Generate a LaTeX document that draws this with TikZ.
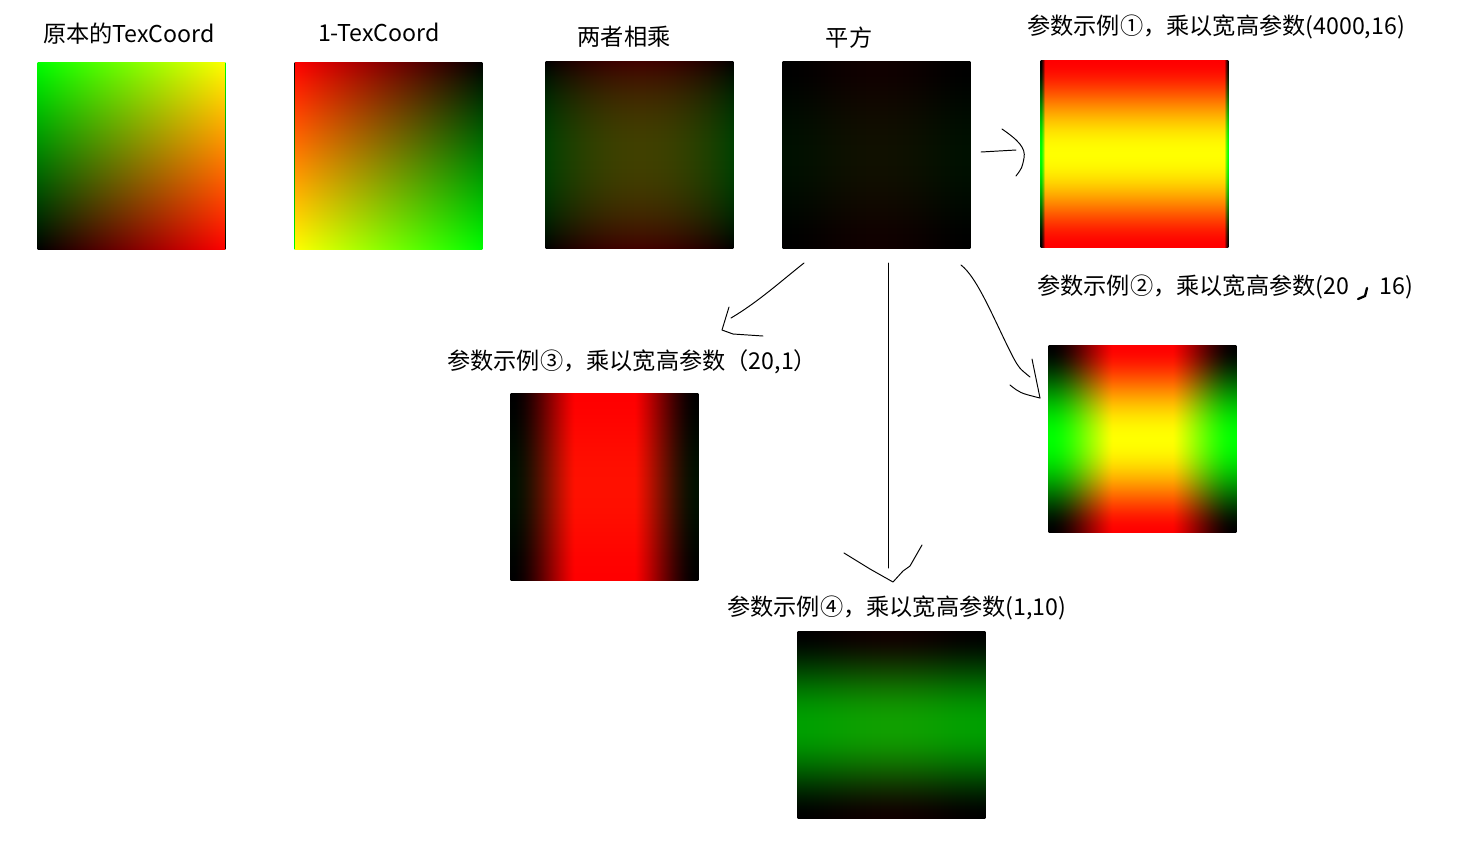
\documentclass[tikz,border=0pt]{standalone}
\usepackage{fontspec}
\setmainfont{Noto Sans CJK SC}

% Construye un sombreado de un canal a partir de una expresion en \ut.
\newcommand\hacersombra[4]{%
  \pgfmathsetmacro\valor{min(1,max(0,0+(#4)))}%
  \xdef\paradas{rgb(0bp)=(#3)}%
  \foreach \i in {0,...,100}{%
    \pgfmathsetmacro\ut{\i/100}%
    \pgfmathsetmacro\valor{min(1,max(0,#4))}%
    \pgfmathsetmacro\pos{25+\i/2}%
    \xdef\paradas{\paradas; rgb(\pos bp)=(#3)}%
  }%
  \xdef\paradas{\paradas; rgb(100bp)=(#3)}%
  \edef\hacer{\expandafter\noexpand\csname pgfdeclare#2shading\endcsname{#1}{100bp}{\paradas}}%
  \hacer
}

% Define los sombreados: rojo en horizontal, verde en vertical.
\def\ut{0}
\hacersombra{origr}{horizontal}{\valor,0,0}{\ut}
\hacersombra{origg}{vertical}{0,\valor,0}{\ut}
\def\ut{1}
\hacersombra{invr}{horizontal}{\valor,0,0}{1-\ut}
\hacersombra{invg}{vertical}{0,\valor,0}{1-\ut}
\hacersombra{prodr}{horizontal}{\valor,0,0}{\ut*(1-\ut)}
\hacersombra{prodg}{vertical}{0,\valor,0}{\ut*(1-\ut)}

% Cuadrado multiplicado por ancho y alto.
\newcommand\hacerpar[3]{%
  \hacersombra{#1r}{horizontal}{\valor,0,0}{#2*(\ut*(1-\ut))^2}%
  \hacersombra{#1g}{vertical}{0,\valor,0}{#3*(\ut*(1-\ut))^2}%
}
\hacerpar{cuad}{1}{1}
\hacerpar{ejuno}{4000}{16}
\hacerpar{ejdos}{20}{16}
\hacerpar{ejtres}{20}{1}
\hacerpar{ejcuatro}{1}{10}

\tikzset{
  cuadro/.style={shade, shading=#1, minimum size=3.74cm, inner sep=0pt, draw=none},
  capa/.style={shading=#1, blend mode=lighten},
  rotulo/.style={font=\fontsize{13.2pt}{15pt}\selectfont, inner sep=0pt, anchor=base},
  trazo/.style={line width=0.55pt, line join=round, line cap=round}
}

\begin{document}
\begin{tikzpicture}[x=0.02cm, y=-0.02cm]
        \useasboundingbox (0,0) rectangle (1457,840);

        \begin{scope}[transparency group]
        % Fila de arriba: los cuatro pasos.
        \node[cuadro=origr] (orig) at (131.5,156) {};
        \node[cuadro=invr] (inv) at (388.5,156) {};
        \node[cuadro=prodr] (prod) at (639.5,155) {};
        \node[cuadro=cuadr] (cuad) at (876.5,155) {};
        \shade[capa=origg] (orig.south west) rectangle (orig.north east);
        \shade[capa=invg] (inv.south west) rectangle (inv.north east);
        \shade[capa=prodg] (prod.south west) rectangle (prod.north east);
        \shade[capa=cuadg] (cuad.south west) rectangle (cuad.north east);

        % Los cuatro ejemplos.
        \node[cuadro=ejunor] (ej1) at (1134.5,154) {};
        \node[cuadro=ejdosr] (ej2) at (1142.5,439) {};
        \node[cuadro=ejtresr] (ej3) at (604.5,487) {};
        \node[cuadro=ejcuatror] (ej4) at (891.5,725) {};
        \shade[capa=ejunog] (ej1.south west) rectangle (ej1.north east);
        \shade[capa=ejdosg] (ej2.south west) rectangle (ej2.north east);
        \shade[capa=ejtresg] (ej3.south west) rectangle (ej3.north east);
        \shade[capa=ejcuatrog] (ej4.south west) rectangle (ej4.north east);
        \end{scope}

        % Rotulos.
        \node[rotulo] (lorig) at (129,42) {原本的TexCoord};
        \node[rotulo] (linv) at (379,41) {1-TexCoord};
        \node[rotulo] (lprod) at (624,45) {两者相乘};
        \node[rotulo] (lcuad) at (849,46) {平方};
        \node[rotulo, anchor=base west] (lej1) at (1027,34) {参数示例①，乘以宽高参数(4000,16)};
        \node[rotulo, anchor=base west] (lej2) at (1037,294) {参数示例②，乘以宽高参数(20};
        \node[rotulo, anchor=base west] (lej2b) at (1379,294) {16)};
        \node[rotulo, anchor=base west] (lej3) at (447,369) {参数示例③，乘以宽高参数（20,1）};
        \node[rotulo, anchor=base west] (lej4) at (727,615) {参数示例④，乘以宽高参数(1,10)};

        % La coma a mano en el ejemplo ②.
        \draw[line width=1.3pt, line cap=round] (1367,288) -- (1365,296) -- (1358,299);

        % Flecha hacia el ejemplo ①.
        \coordinate (A) at (981,152);
        \coordinate (B) at (1016,150);
        \draw[trazo] (A) -- (B);
        \draw[trazo] (1002,129) .. controls (1018,140) and (1026,148) .. (1024,158) .. controls (1022,168) .. (1016,176);

        % Flecha hacia el ejemplo ③.
        \coordinate (C) at (804,263);
        \coordinate (D) at (731,318);
        \draw[trazo] (C) .. controls (780,282) and (758,302) .. (D);
        \draw[trazo] (729,307) -- (722,330) -- (733,334) -- (763,336);

        % Flecha hacia el ejemplo ④.
        \coordinate (E) at (888.5,263);
        \coordinate (F) at (888.5,568);
        \draw[trazo] (E) -- (F);
        \draw[trazo] (844,553) -- (870,569) -- (893,582) -- (903,571) -- (910,566) -- (922,545);

        % Flecha hacia el ejemplo ②.
        \coordinate (G) at (961,265);
        \coordinate (H) at (1030,377);
        \draw[trazo] (G) .. controls (978,278) and (995,322) .. (1013,357) .. controls (1019,368) .. (H);
        \draw[trazo] (1032,359) -- (1040,398);
        \draw[trazo] (1010,385) .. controls (1020,393) .. (1040,398);
    \end{tikzpicture}
\end{document}
